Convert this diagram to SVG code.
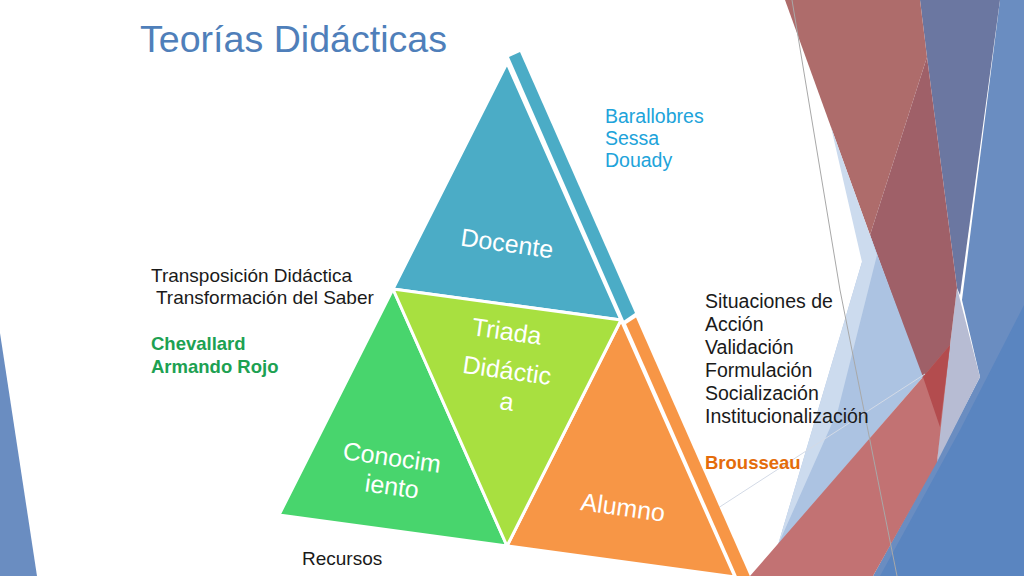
<svg xmlns="http://www.w3.org/2000/svg" width="1024" height="576" viewBox="0 0 1024 576">
<style>
.t{font-family:"Liberation Sans",Arial,sans-serif;font-size:19.5px;fill:#1a1a1a}
.s{font-size:19px}
.b{font-weight:bold;font-size:18.5px}
.lbl{font-family:"Liberation Sans",Arial,sans-serif;font-size:25px;fill:#ffffff;text-anchor:middle}
.tri{stroke:#ffffff;stroke-width:3;stroke-linejoin:round}
.thin{fill:none;stroke-width:1}
</style>
<rect width="1024" height="576" fill="#ffffff"/>
<g id="background">
<polygon points="1000,0 1024,0 1024,576 873,576 937,460 980,377 962,300" fill="#6A8DC1"/>
<polygon points="1024,305 1024,576 880,576 960,430" fill="#5A85C0"/>
<polygon points="957,288 980,377 937,462 940,427" fill="#B7BCD3"/>
<polygon points="920,0 1000,0 960,295 957,288 927,57" fill="#6B77A1"/>
<polygon points="785,0 920,0 927,57 870,235" fill="#AE6C6B"/>
<polygon points="927,57 957,288 940,427 870,235" fill="#9F6068"/>
<polygon points="870,235 923,377 778,545" fill="#ACC3E2"/>
<polygon points="831,127 870,235 877,255 838,410 778,545 862,262" fill="#CCDBEE"/>
<polygon points="750,576 923,377 950,345 937,462 873,576" fill="#C27273"/>
<polygon points="923,377 950,345 940,427" fill="#B34C4E"/>
<polygon points="0,333 0,576 37,576" fill="#6A8DC1"/>
<polyline class="thin" points="792,0 840,290 897,576" stroke="#A8A8A8"/>
<line class="thin" x1="715" y1="510" x2="925" y2="374" stroke="#D3DAE6"/>
</g>
<g id="title">
<text x="140" y="52" font-family="Liberation Sans, Arial, sans-serif" font-size="37.5" fill="#4F7FBA" textLength="307" lengthAdjust="spacingAndGlyphs">Teorías Didácticas</text>
</g>
<g id="docente">
<polygon points="509,57 520,52 635,313 624,320.5" fill="#4BACC6"/>
<polygon class="tri" points="507,63 393,289 621,320" fill="#4BACC6"/>
<text class="lbl" x="507" y="252" transform="rotate(8 507 243.5)">Docente</text>
</g>
<g id="conocimiento">
<polygon class="tri" points="393,289 279,515 507,546" fill="#48D56D"/>
<text class="lbl" x="392" y="466" transform="rotate(8 392 457)">Conocim</text>
<text class="lbl" x="392" y="495" transform="rotate(8 392 486)">iento</text>
</g>
<g id="alumno">
<polygon points="626,324 636,317.5 756,590 743,590" fill="#F79646"/>
<polygon class="tri" points="621,320 507,546 735,577" fill="#F79646"/>
<text class="lbl" x="623" y="516" transform="rotate(8 623 507)">Alumno</text>
</g>
<g id="triada">
<polygon class="tri" points="393,289 621,320 507,546" fill="#A8E040"/>
<text class="lbl" x="507" y="340" transform="rotate(8 507 331)">Triada</text>
<text class="lbl" x="507" y="379" transform="rotate(8 507 370)">Didáctic</text>
<text class="lbl" x="507" y="410" transform="rotate(8 507 401)">a</text>
</g>
<g id="connectors"/>
<g id="notes-top">
<text class="t" x="605" y="123" style="fill:#20A3DA">Barallobres</text>
<text class="t" x="605" y="145" style="fill:#20A3DA">Sessa</text>
<text class="t" x="605" y="167" style="fill:#20A3DA">Douady</text>
</g>
<g id="notes-left">
<text class="t s" x="151" y="282">Transposición Didáctica</text>
<text class="t s" x="151" y="304" xml:space="preserve"> Transformación del Saber</text>
<text class="t b" x="151" y="350" style="fill:#1DA152">Chevallard</text>
<text class="t b" x="151" y="373" style="fill:#1DA152">Armando Rojo</text>
</g>
<g id="notes-right">
<text class="t" x="705" y="308">Situaciones de</text>
<text class="t" x="705" y="331">Acción</text>
<text class="t" x="705" y="354">Validación</text>
<text class="t" x="705" y="377">Formulación</text>
<text class="t" x="705" y="400">Socialización</text>
<text class="t" x="705" y="423">Institucionalización</text>
<text class="t b" x="705" y="469" style="fill:#E46C0A">Brousseau</text>
</g>
<g id="notes-bottom">
<text class="t s" x="302" y="565">Recursos</text>
</g>
</svg>
